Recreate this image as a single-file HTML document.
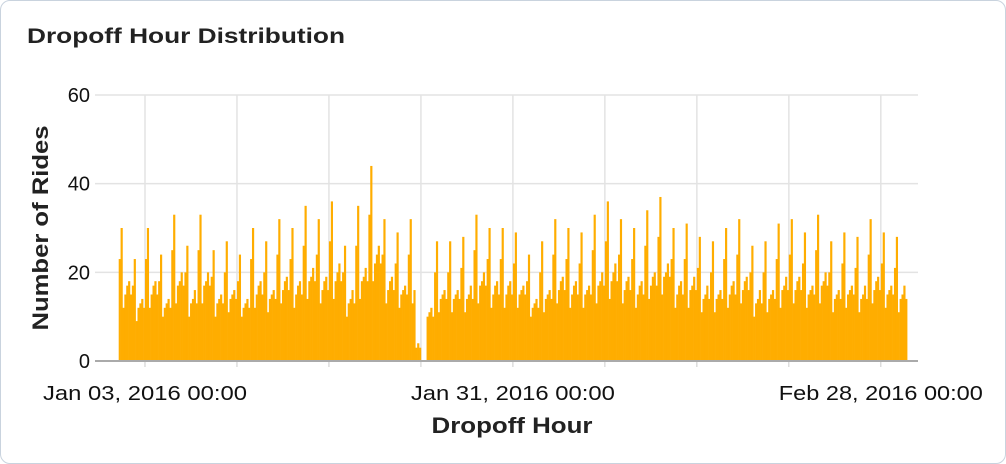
<!DOCTYPE html>
<html><head><meta charset="utf-8"><style>
body{margin:0;background:#fff;font-family:"Liberation Sans",sans-serif;}
#card{position:absolute;left:0;top:0;width:1004px;height:462px;border:1px solid #c9d3de;border-radius:10px;background:#fff;overflow:hidden}
</style></head><body>
<div id="card">
<svg id="chart" width="1006" height="464" style="position:absolute;left:-1px;top:-1px">
<text x="27" y="43" font-size="21" font-weight="bold" fill="#222" textLength="318" lengthAdjust="spacingAndGlyphs">Dropoff Hour Distribution</text>
</svg>
</div>
<script>
const dailyPeaks=[30,23,30,24,33,26,33,25,27,24,30,27,32,30,35,32,36,26,35,44,32,29,8,20,27,27,28,33,30,30,29,24,27,32,30,29,33,36,32,30,34,37,30,31,28,27,30,32,26,27,31,32,29,33,27,29,28,32,29,28];
const binShape=[0.75,1.0,0.4,0.5,0.55,0.6,0.5];
const stormBins=[3,4,3,2,0,0,0];
const yTicks=[0,20,40,60];
const xLabels=["Jan 03, 2016 00:00","Jan 31, 2016 00:00","Feb 28, 2016 00:00"];
const xLabelDays=[2,30,58];
const weekTickDays=[2,9,16,23,30,37,44,51,58];

const NS="http://www.w3.org/2000/svg",svg=document.getElementById('chart');
const X0=118.7,PXD=13.14,Y0=361,PXU=266/60;
const x=d=>X0+d*PXD, y=v=>Y0-v*PXU;
function mk(t,a,p){const e=document.createElementNS(NS,t);for(const k in a)e.setAttribute(k,a[k]);(p||svg).appendChild(e);return e;}
yTicks.forEach(v=>{const l=mk('line',{x1:95,x2:918,y1:y(v),y2:y(v),stroke:'#e3e3e3','stroke-width':1.5});

const t=mk('text',{x:90,y:y(v)+7,'text-anchor':'end','font-size':20,fill:'#111'});t.textContent=v;
});
weekTickDays.forEach(d=>{const l=mk('line',{x1:x(d),x2:x(d),y1:95,y2:361,stroke:'#e3e3e3','stroke-width':1.5});

const k=mk('line',{x1:x(d),x2:x(d),y1:361,y2:367,stroke:'#ccc'});
});
const g=mk('g',{fill:'#ffad00'});

const nb=binShape.length, bw=PXD/nb;
dailyPeaks.forEach((p,d)=>{binShape.forEach((s,b)=>{
 let v=Math.round(p*s);
 if(d===22){v=b<4?Math.round(32*s):stormBins[b-4];}
 if(d===23&&b<3)v=stormBins[b+4];
 if(v<=0)return;
 const r=mk('rect',{x:x(d+b/nb),y:y(v),width:bw+0.3,height:Y0-y(v)},g);
 });});
const ax=mk('line',{x1:95,x2:918,y1:361,y2:361,stroke:'#aaa','stroke-width':2});

xLabels.forEach((s,i)=>{const t=mk('text',{x:x(xLabelDays[i]),y:400,'text-anchor':'middle','font-size':20,fill:'#111',textLength:204,lengthAdjust:'spacingAndGlyphs'});t.textContent=s;
});
const xt=mk('text',{x:512,y:433,'text-anchor':'middle','font-size':22,'font-weight':'bold',fill:'#222',textLength:161,lengthAdjust:'spacingAndGlyphs'});xt.textContent='Dropoff Hour';

const yt=mk('text',{x:0,y:0,transform:'translate(48,228) rotate(-90)','text-anchor':'middle','font-size':22,'font-weight':'bold',fill:'#222',textLength:205,lengthAdjust:'spacingAndGlyphs'});yt.textContent='Number of Rides';

</script>
</body></html>
